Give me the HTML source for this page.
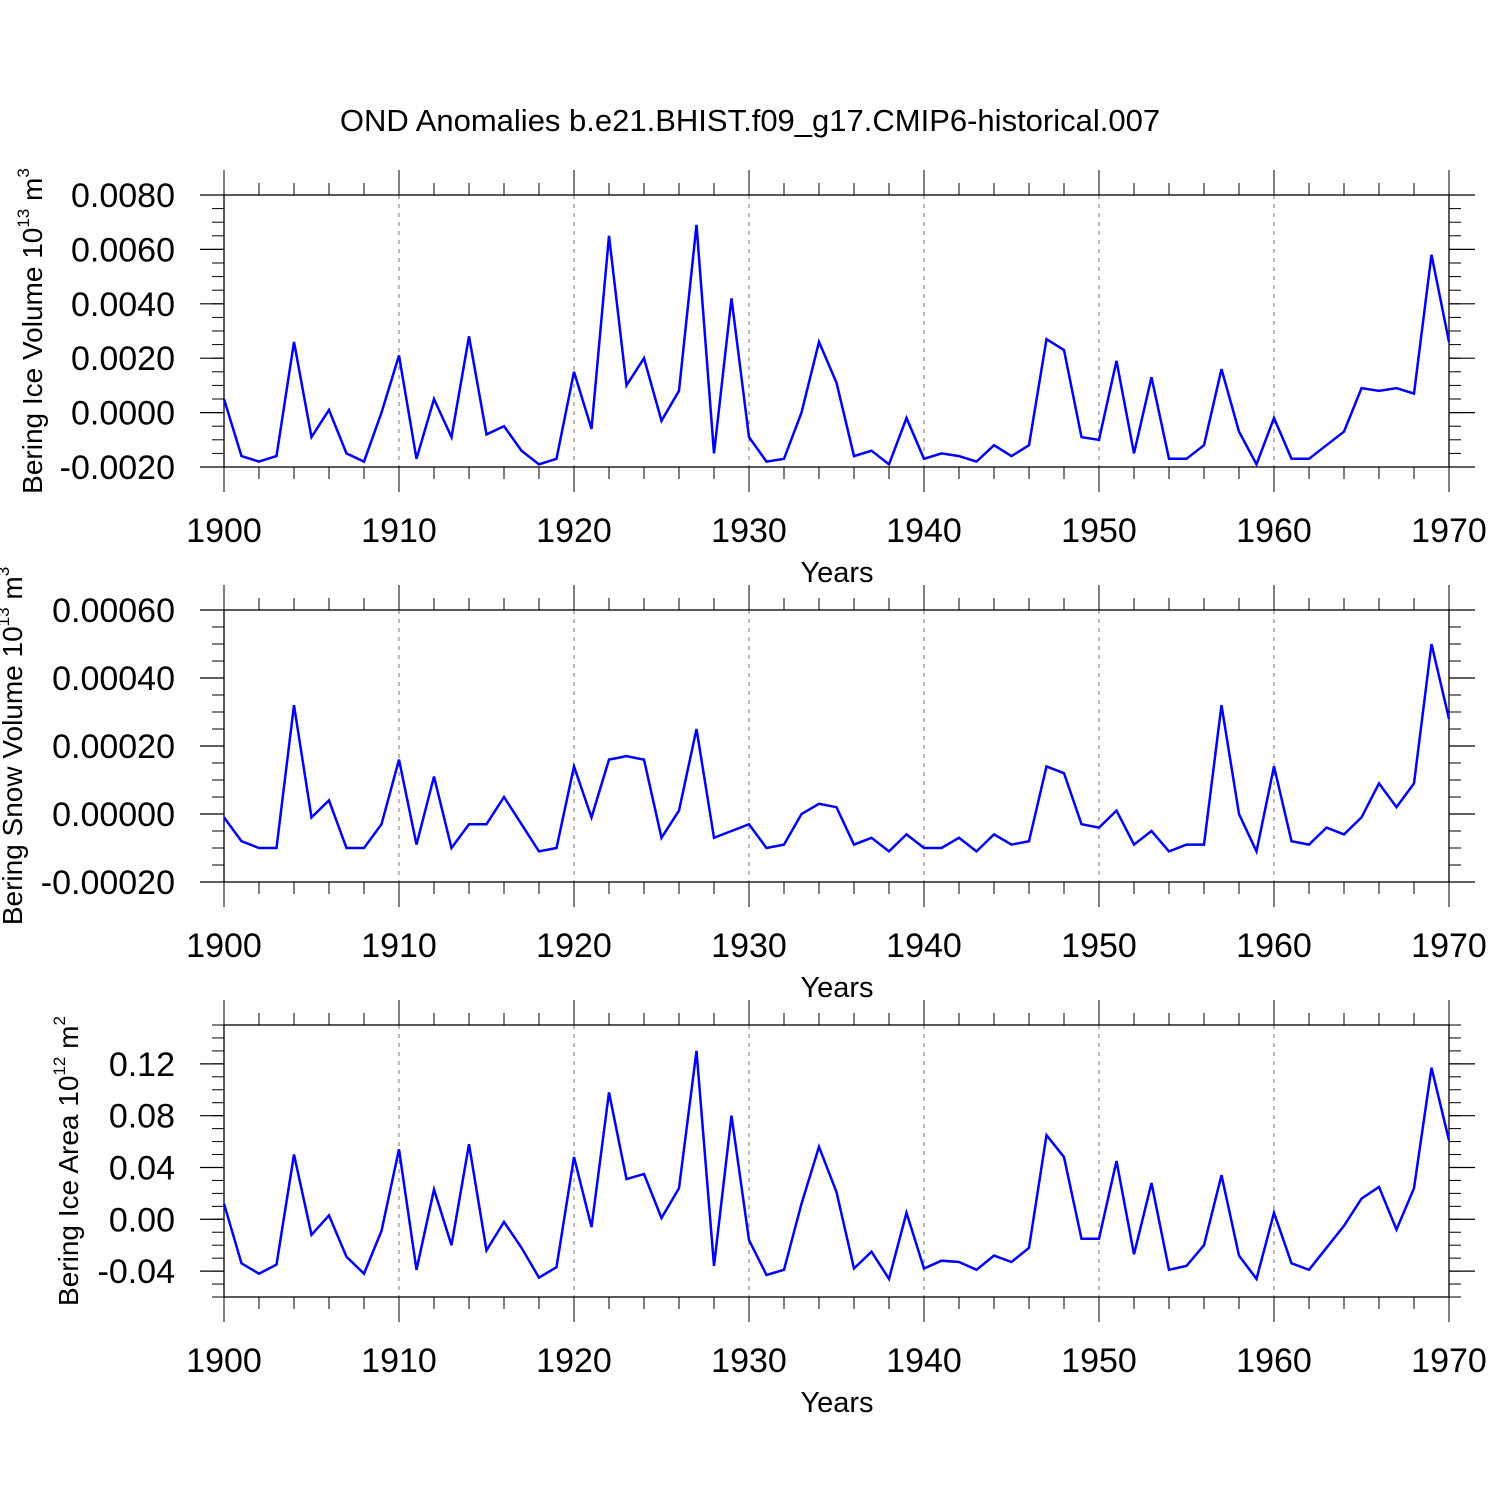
<!DOCTYPE html>
<html><head><meta charset="utf-8"><style>
html,body{margin:0;padding:0;background:#fff;}
svg{display:block;font-family:"Liberation Sans",sans-serif;}
</style></head><body>
<svg id="chart" width="1500" height="1500" viewBox="0 0 1500 1500" xmlns="http://www.w3.org/2000/svg">
<rect x="0" y="0" width="1500" height="1500" fill="#fff"/>
<text x="750" y="131" font-size="31" text-anchor="middle">OND Anomalies b.e21.BHIST.f09_g17.CMIP6-historical.007</text>
</svg>
<script>
const years = [];
for (let y = 1900; y <= 1970; y++) years.push(y);
const iceVolume = [0.0005,-0.0016,-0.0018,-0.0016,0.0026,-0.0009,0.0001,-0.0015,-0.0018,0.0000,0.0021,-0.0017,0.0005,-0.0009,0.0028,-0.0008,-0.0005,-0.0014,-0.0019,-0.0017,0.0015,-0.0006,0.0065,0.0010,0.0020,-0.0003,0.0008,0.0069,-0.0015,0.0042,-0.0009,-0.0018,-0.0017,0.0000,0.0026,0.0011,-0.0016,-0.0014,-0.0019,-0.0002,-0.0017,-0.0015,-0.0016,-0.0018,-0.0012,-0.0016,-0.0012,0.0027,0.0023,-0.0009,-0.0010,0.0019,-0.0015,0.0013,-0.0017,-0.0017,-0.0012,0.0016,-0.0007,-0.0019,-0.0002,-0.0017,-0.0017,-0.0012,-0.0007,0.0009,0.0008,0.0009,0.0007,0.0058,0.0026];
const snowVolume = [-0.00001,-0.00008,-0.00010,-0.00010,0.00032,-0.00001,0.00004,-0.00010,-0.00010,-0.00003,0.00016,-0.00009,0.00011,-0.00010,-0.00003,-0.00003,0.00005,-0.00003,-0.00011,-0.00010,0.00014,-0.00001,0.00016,0.00017,0.00016,-0.00007,0.00001,0.00025,-0.00007,-0.00005,-0.00003,-0.00010,-0.00009,0.00000,0.00003,0.00002,-0.00009,-0.00007,-0.00011,-0.00006,-0.00010,-0.00010,-0.00007,-0.00011,-0.00006,-0.00009,-0.00008,0.00014,0.00012,-0.00003,-0.00004,0.00001,-0.00009,-0.00005,-0.00011,-0.00009,-0.00009,0.00032,0.00000,-0.00011,0.00014,-0.00008,-0.00009,-0.00004,-0.00006,-0.00001,0.00009,0.00002,0.00009,0.00050,0.00028];
const iceArea = [0.012,-0.034,-0.042,-0.035,0.050,-0.012,0.003,-0.029,-0.042,-0.009,0.054,-0.039,0.023,-0.020,0.058,-0.024,-0.002,-0.022,-0.045,-0.037,0.048,-0.006,0.098,0.031,0.035,0.001,0.024,0.130,-0.036,0.080,-0.016,-0.043,-0.039,0.012,0.056,0.021,-0.038,-0.025,-0.046,0.005,-0.038,-0.032,-0.033,-0.039,-0.028,-0.033,-0.022,0.065,0.048,-0.015,-0.015,0.045,-0.027,0.028,-0.039,-0.036,-0.020,0.034,-0.028,-0.046,0.005,-0.034,-0.039,-0.022,-0.005,0.016,0.025,-0.008,0.024,0.117,0.061];
const xTicks = [1900,1910,1920,1930,1940,1950,1960,1970];
const ticks1 = [-0.002,0,0.002,0.004,0.006,0.008];
const labels1 = ["-0.0020","0.0000","0.0020","0.0040","0.0060","0.0080"];
const ticks2 = [-0.0002,0,0.0002,0.0004,0.0006];
const labels2 = ["-0.00020","0.00000","0.00020","0.00040","0.00060"];
const ticks3 = [-0.04,0,0.04,0.08,0.12];
const labels3 = ["-0.04","0.00","0.04","0.08","0.12"];

const NS = "http://www.w3.org/2000/svg";
const svg = document.getElementById('chart');
function mk(tag, attrs, parent) {
  const e = document.createElementNS(NS, tag);
  for (const k in attrs) e.setAttribute(k, attrs[k]);
  (parent || svg).appendChild(e);
  return e;
}
const X0 = 224, X1 = 1449;
function xs(yr) { return X0 + (yr - 1900) / 70 * (X1 - X0); }

function panel(cfg) {
  const g = mk('g', {});
  
  
  const top = cfg.top, bot = cfg.top + 272;
  const ys = v => bot - (v - cfg.min) / (cfg.max - cfg.min) * (bot - top);
  for (const t of xTicks) {
    if (t === 1900 || t === 1970) continue;
    const l = mk('line', {x1: xs(t), x2: xs(t), y1: top, y2: bot, stroke: '#777', 'stroke-width': 1, 'stroke-dasharray': '4,5'}, g);
    
    
  }
  const fr = mk('rect', {x: X0, y: top, width: X1 - X0, height: bot - top, fill: 'none', stroke: '#000', 'stroke-width': 1.3}, g);
  
  
  for (let yr = 1900; yr <= 1970; yr += 2) {
    const maj = (yr % 10 === 0);
    const L = maj ? 25 : 12;
    mk('line', {x1: xs(yr), x2: xs(yr), y1: top, y2: top - L, stroke: '#000', 'stroke-width': 1}, g);
    mk('line', {x1: xs(yr), x2: xs(yr), y1: bot, y2: bot + L, stroke: '#000', 'stroke-width': 1}, g);
  }
  for (const t of xTicks) {
    const tx = mk('text', {x: xs(t), y: bot + 75, 'font-size': 34, 'text-anchor': 'middle'}, g);
    tx.textContent = t;
    
    
  }
  const xt = mk('text', {x: 837, y: bot + 115, 'font-size': 29, 'text-anchor': 'middle'}, g);
  xt.textContent = 'Years';
  
  
  const nMin = Math.round((cfg.max - cfg.min) / cfg.minor);
  for (let i = 0; i <= nMin; i++) {
    const v = cfg.min + i * cfg.minor;
    const y = ys(v);
    mk('line', {x1: X0, x2: X0 - 12, y1: y, y2: y, stroke: '#000', 'stroke-width': 1}, g);
    mk('line', {x1: X1, x2: X1 + 12, y1: y, y2: y, stroke: '#000', 'stroke-width': 1}, g);
  }
  cfg.ticks.forEach((v, i) => {
    const y = ys(v);
    mk('line', {x1: X0, x2: X0 - 24, y1: y, y2: y, stroke: '#000', 'stroke-width': 1.2}, g);
    mk('line', {x1: X1, x2: X1 + 26, y1: y, y2: y, stroke: '#000', 'stroke-width': 1.2}, g);
    const tx = mk('text', {x: 175, y: y + 12, 'font-size': 34, 'text-anchor': 'end'}, g);
    tx.textContent = cfg.labels[i];
    
    
  });
  const cy = (top + bot) / 2;
  const yt = mk('text', {x: 0, y: 0, 'font-size': 28, 'text-anchor': 'middle', transform: `translate(${cfg.titleX},${cy}) rotate(-90)`}, g);
  
  
  yt.appendChild(document.createTextNode(cfg.title + ' 10'));
  const s1 = mk('tspan', {'font-size': 17, dy: -13}, yt); s1.textContent = cfg.exp;
  const s2 = mk('tspan', {'font-size': 28, dy: 13}, yt); s2.textContent = ' m';
  const s3 = mk('tspan', {'font-size': 17, dy: -13}, yt); s3.textContent = cfg.unitExp;
  const d = cfg.data.map((v, i) => (i ? 'L' : 'M') + xs(years[i]).toFixed(1) + ',' + ys(v).toFixed(1)).join(' ');
  const p = mk('path', {d: d, fill: 'none', stroke: '#0000ff', 'stroke-width': 2.5, 'stroke-linejoin': 'miter'}, g);
  
  
}

panel({name: 'ice-volume-panel', top: 195, min: -0.002, max: 0.008, minor: 0.0005, ticks: ticks1, labels: labels1, data: iceVolume, title: 'Bering Ice Volume', exp: '13', unitExp: '3', titleX: 42});
panel({name: 'snow-volume-panel', top: 610, min: -0.0002, max: 0.0006, minor: 0.00005, ticks: ticks2, labels: labels2, data: snowVolume, title: 'Bering Snow Volume', exp: '13', unitExp: '3', titleX: 22});
panel({name: 'ice-area-panel', top: 1025, min: -0.06, max: 0.15, minor: 0.01, ticks: ticks3, labels: labels3, data: iceArea, title: 'Bering Ice Area', exp: '12', unitExp: '2', titleX: 78});
</script>
</body></html>
